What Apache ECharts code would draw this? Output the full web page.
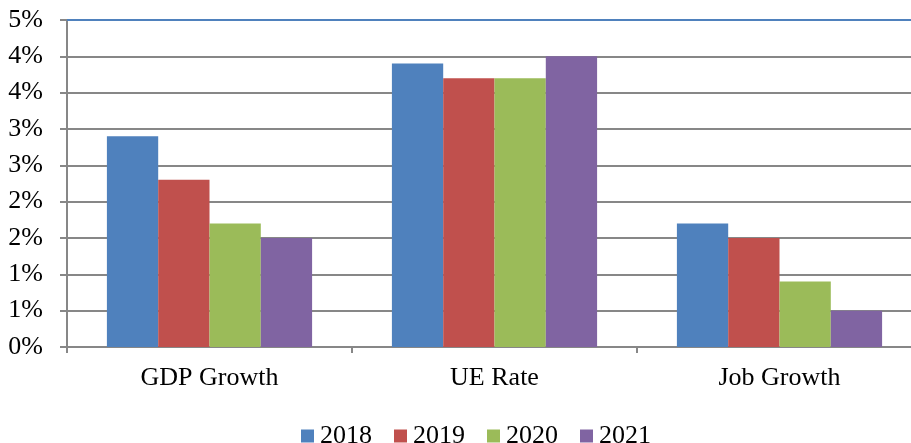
<!DOCTYPE html>
<html>
<head>
<meta charset="utf-8">
<script src="https://cdn.jsdelivr.net/npm/echarts@6/dist/echarts.min.js"></script>
<style>html,body{margin:0;padding:0;background:#fff;overflow:hidden}#c{width:911px;height:443px}</style>
</head>
<body>
<div id="c"></div>
<script>
const categories = ['GDP Growth', 'UE Rate', 'Job Growth'];
const seriesNames = ['2018', '2019', '2020', '2021'];
const values2018 = [2.9, 3.9, 1.7];
const values2019 = [2.3, 3.7, 1.5];
const values2020 = [1.7, 3.7, 0.9];
const values2021 = [1.5, 4.0, 0.5];
const yTicks = [0, 0.5, 1, 1.5, 2, 2.5, 3, 3.5, 4, 4.5];
const colors = ['#4F81BD', '#C0504D', '#9BBB59', '#8064A2'];

const allValues = [values2018, values2019, values2020, values2021];
const font = "'Liberation Serif', 'Times New Roman', serif";
const gray = '#878787';

const chart = echarts.init(document.getElementById('c'));
chart.setOption({
  animation: false,
  color: colors,
  textStyle: { fontFamily: font },
  grid: { left: 67, right: -11, top: 20, bottom: 96, containLabel: false, outerBoundsMode: 'none' },
  legend: {
    data: seriesNames,
    left: 296,
    top: 418,
    itemWidth: 13,
    itemHeight: 13,
    itemGap: 22,
    icon: 'rect',
    textStyle: { fontFamily: font, fontSize: 26, color: '#000', padding: [0, 0, 0, 1] }
  },
  xAxis: [{
    type: 'category',
    data: categories,
    axisLine: { lineStyle: { color: gray, width: 2 } },
    axisTick: { show: true, length: 6, lineStyle: { color: gray, width: 2 } },
    axisLabel: { fontFamily: font, fontSize: 26, color: '#000', margin: 18 }
  }, {
    type: 'category',
    data: categories,
    position: 'top',
    axisLine: { show: true, lineStyle: { color: '#4F81BD', width: 2 } },
    axisTick: { show: false },
    axisLabel: { show: false }
  }],
  yAxis: {
    type: 'value',
    min: yTicks[0],
    max: yTicks[yTicks.length - 1],
    interval: 0.5,
    axisLine: { show: true, lineStyle: { color: gray, width: 2 } },
    axisTick: { show: true, length: 7, lineStyle: { color: gray, width: 2 } },
    splitLine: { show: true, lineStyle: { color: gray, width: 2 } },
    axisLabel: {
      fontFamily: font, fontSize: 26, color: '#000', margin: 24,
      formatter: v => Math.round(v) + '%'
    }
  },
  series: seriesNames.map((name, i) => ({
    name: name,
    type: 'bar',
    data: allValues[i],
    barGap: '0%',
    barCategoryGap: '28%',
    itemStyle: { color: colors[i] }
  }))
});
</script>
</body>
</html>
